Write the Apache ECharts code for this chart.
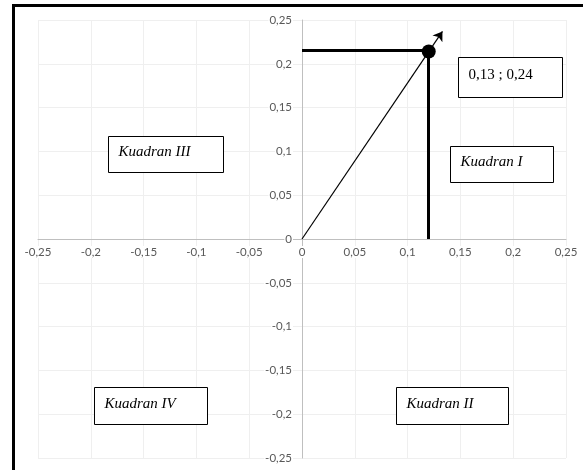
<!DOCTYPE html>
<html>
<head>
<meta charset="utf-8">
<script src="https://cdn.jsdelivr.net/npm/echarts@6/dist/echarts.min.js"></script>
<style>
  html, body { margin: 0; padding: 0; background: #fff; }
  #chart { width: 583px; height: 470px; }
</style>
</head>
<body>
<div id="chart"></div>
<script>
// ---- data ----
const xRange = [-0.25, 0.25];
const yRange = [-0.25, 0.25];
const tickStep = 0.05;
const vectorStart = [0, 0];
const vectorEnd = [0.133, 0.237];
const pointXY = [0.12, 0.214];
const guideH = [[0, 0.216], [0.12, 0.216]];
const guideV = [[0.12, 0], [0.12, 0.214]];
const boxTexts = ['0,13 ; 0,24', 'Kuadran I', 'Kuadran III', 'Kuadran IV', 'Kuadran II'];
const boxItalic = [false, true, true, true, true];

// ---- layout for annotation boxes (data-space corners: x1, yTop, x2, yBottom) ----
const boxCorners = [
  [0.1474, 0.2074, 0.2459, 0.1613],
  [0.1399, 0.1065, 0.2377, 0.0654],
  [-0.1840, 0.1176, -0.0751, 0.0768],
  [-0.1970, -0.1689, -0.0902, -0.2112],
  [0.0887, -0.1689, 0.1948, -0.2112]
];

const GRID = { left: 38, right: 17, top: 20, bottom: 12 };
const W = 583, H = 470;
const gridW = W - GRID.left - GRID.right;
const gridH = H - GRID.top - GRID.bottom;
// shift axes so they cross at zero (labels move with them)
const xAxisOffset = -gridH * (0 - yRange[0]) / (yRange[1] - yRange[0]);
const yAxisOffset = -gridW * (0 - xRange[0]) / (xRange[1] - xRange[0]);

const fmt = v => String(+(+v).toFixed(2)).replace('.', ',');
const chart = echarts.init(document.getElementById('chart'));

const labelCommon = {
  formatter: fmt,
  color: '#595959',
  fontFamily: 'Lato',
  fontSize: 11.5,
  backgroundColor: '#fff',
  padding: [0, 1]
};
const axisCommon = {
  type: 'value',
  interval: tickStep,
  axisLine: { onZero: false, lineStyle: { color: '#bfbfbf', width: 1 } },
  axisTick: { show: false },
  splitLine: { show: true, lineStyle: { color: '#efefef', width: 1 } }
};

chart.setOption({
  animation: false,
  backgroundColor: '#fff',
  grid: Object.assign({ containLabel: false }, GRID),
  xAxis: Object.assign({}, axisCommon, {
    position: 'bottom',
    offset: xAxisOffset,
    min: xRange[0], max: xRange[1],
    axisLabel: Object.assign({}, labelCommon, { margin: 7 })
  }),
  yAxis: Object.assign({}, axisCommon, {
    position: 'left',
    offset: yAxisOffset,
    min: yRange[0], max: yRange[1],
    axisLabel: Object.assign({}, labelCommon, { margin: 9 })
  }),
  series: [
    {
      type: 'lines',
      coordinateSystem: 'cartesian2d',
      z: 3,
      lineStyle: { color: '#000', width: 3, opacity: 1 },
      symbol: 'none',
      data: [{ coords: guideH }, { coords: guideV }]
    },
    {
      type: 'lines',
      coordinateSystem: 'cartesian2d',
      z: 4,
      lineStyle: { color: '#000', width: 1.2, opacity: 1 },
      symbol: ['none', 'arrow'],
      symbolSize: 9,
      data: [{ coords: [vectorStart, vectorEnd] }]
    },
    {
      type: 'scatter',
      z: 5,
      symbol: 'circle',
      symbolSize: 14,
      itemStyle: { color: '#000', opacity: 1 },
      data: [pointXY]
    }
  ]
});

// annotation boxes placed through the axes' scales
const graphics = [{
  type: 'rect',
  shape: { x: 13.5, y: 5.5, width: 700, height: 600 },
  style: { fill: null, stroke: '#000', lineWidth: 3 },
  z: 100, silent: true
}];
boxCorners.forEach((c, i) => {
  const p1 = chart.convertToPixel({ gridIndex: 0 }, [c[0], c[1]]);
  const p2 = chart.convertToPixel({ gridIndex: 0 }, [c[2], c[3]]);
  const x = Math.round(p1[0]) + 0.5, y = Math.round(p1[1]) + 0.5;
  const w = Math.round(p2[0] - p1[0]), h = Math.round(p2[1] - p1[1]);
  graphics.push({
    type: 'rect',
    shape: { x: x, y: y, width: w, height: h },
    style: { fill: '#fff', stroke: '#000', lineWidth: 1 },
    z: 50
  });
  graphics.push({
    type: 'text',
    x: x + 10, y: y + h / 2 - 2,
    z: 51,
    style: {
      text: boxTexts[i],
      font: (boxItalic[i] ? 'italic ' : '') + '15px "Liberation Serif"',
      fill: '#000',
      verticalAlign: 'middle',
      align: 'left'
    }
  });
});
chart.setOption({ graphic: graphics });
</script>
</body>
</html>
